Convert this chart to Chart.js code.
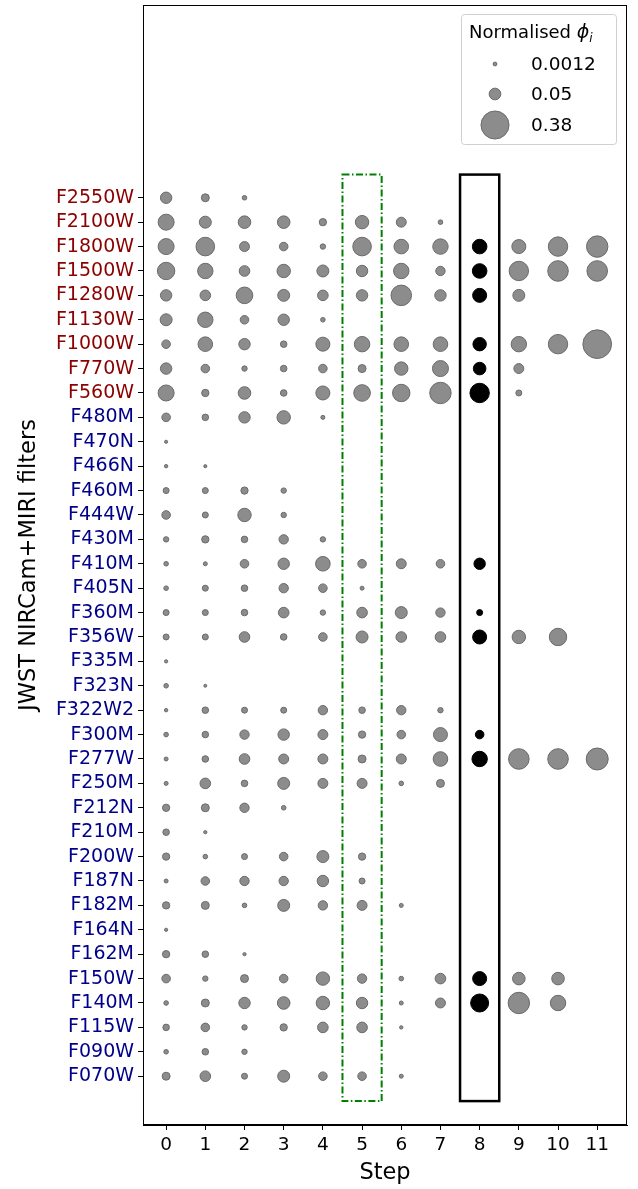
<!DOCTYPE html>
<html>
<head>
<meta charset="utf-8">
<script src="https://cdn.jsdelivr.net/npm/chart.js@4.4.1/dist/chart.umd.min.js"></script>
<style>
  html, body { margin: 0; padding: 0; background: #fff; }
  #wrap { width: 638px; height: 1189px; }
</style>
</head>
<body>
<div id="wrap"><canvas id="chart" width="638" height="1189"></canvas></div>
<script>
// Filters, top to bottom (MIRI first, then NIRCam)
const filters = [
    'F2550W', 'F2100W', 'F1800W', 'F1500W', 'F1280W', 'F1130W', 'F1000W', 'F770W', 'F560W',
    'F480M', 'F470N', 'F466N', 'F460M', 'F444W', 'F430M', 'F410M', 'F405N', 'F360M',
    'F356W', 'F335M', 'F323N', 'F322W2', 'F300M', 'F277W', 'F250M', 'F212N', 'F210M',
    'F200W', 'F187N', 'F182M', 'F164N', 'F162M', 'F150W', 'F140M', 'F115W', 'F090W', 'F070W'
];
const miriCount = 9;
const steps = [0, 1, 2, 3, 4, 5, 6, 7, 8, 9, 10, 11];
const highlightStep = 8;

// Normalised phi_i per filter (same order as filters), one value per step
const phi = [
    [0.047, 0.018, 0.0028],
    [0.107, 0.053, 0.060, 0.060, 0.014, 0.070, 0.033, 0.0028],
    [0.107, 0.152, 0.033, 0.022, 0.0052, 0.152, 0.086, 0.098, 0.086, 0.078, 0.167, 0.209],
    [0.130, 0.098, 0.039, 0.070, 0.053, 0.047, 0.098, 0.028, 0.086, 0.167, 0.191, 0.191],
    [0.047, 0.039, 0.117, 0.053, 0.039, 0.047, 0.191, 0.047, 0.078, 0.053],
    [0.053, 0.098, 0.022, 0.047, 0.0028],
    [0.022, 0.086, 0.047, 0.010, 0.078, 0.098, 0.086, 0.086, 0.070, 0.098, 0.167, 0.40],
    [0.047, 0.022, 0.0052, 0.010, 0.022, 0.018, 0.070, 0.107, 0.060, 0.033],
    [0.107, 0.014, 0.060, 0.010, 0.078, 0.117, 0.130, 0.209, 0.167, 0.0075],
    [0.022, 0.010, 0.047, 0.070, 0.0015],
    [0.0003],
    [0.0006, 0.0003],
    [0.0075, 0.0075, 0.014, 0.0052],
    [0.022, 0.0075, 0.070, 0.0052],
    [0.0052, 0.014, 0.010, 0.028, 0.0052],
    [0.0028, 0.0015, 0.022, 0.047, 0.086, 0.022, 0.033, 0.022, 0.047],
    [0.0028, 0.0075, 0.010, 0.028, 0.022, 0.0015],
    [0.0075, 0.0075, 0.010, 0.039, 0.0052, 0.039, 0.053, 0.028, 0.0075],
    [0.0075, 0.0075, 0.039, 0.010, 0.022, 0.053, 0.039, 0.039, 0.078, 0.070, 0.130],
    [0.0004],
    [0.0028, 0.0002],
    [0.0006, 0.010, 0.0075, 0.0075, 0.028, 0.010, 0.028, 0.0052],
    [0.0028, 0.010, 0.028, 0.047, 0.033, 0.014, 0.022, 0.078, 0.022],
    [0.0015, 0.010, 0.039, 0.033, 0.033, 0.018, 0.033, 0.086, 0.098, 0.191, 0.191, 0.222],
    [0.0015, 0.039, 0.010, 0.053, 0.033, 0.033, 0.0028, 0.018],
    [0.014, 0.018, 0.028, 0.0028],
    [0.010, 0.0004],
    [0.014, 0.0028, 0.0075, 0.022, 0.053, 0.014],
    [0.0015, 0.022, 0.028, 0.028, 0.047, 0.0075],
    [0.014, 0.018, 0.0028, 0.053, 0.028, 0.033, 0.0015],
    [0.0004],
    [0.014, 0.010, 0.0004],
    [0.022, 0.0052, 0.018, 0.022, 0.070, 0.028, 0.0028, 0.039, 0.078, 0.060, 0.060],
    [0.0028, 0.018, 0.047, 0.060, 0.070, 0.047, 0.0015, 0.033, 0.141, 0.209, 0.098],
    [0.010, 0.022, 0.0052, 0.014, 0.039, 0.039, 0.0006],
    [0.0028, 0.010, 0.0052],
    [0.018, 0.039, 0.0075, 0.053, 0.022, 0.022, 0.0015]
];

// Legend reference sizes
const legendValues = [0.0012, 0.05, 0.38];
const legendLabels = ['0.0012', '0.05', '0.38'];

// Highlight boxes (step ranges)
const greenBox = [4.5, 5.5];
const blackBox = [7.5, 8.5];

const FONT = "'DejaVu Sans', sans-serif";
const radius = v => 1.2 + 20.8 * Math.sqrt(v);
const yOf = i => filters.length - 1 - i;

const greyPts = [];
const blackPts = [];
phi.forEach((row, i) => {
    row.forEach((v, s) => {
        if (v == null) return;
        const p = { x: steps[s], y: yOf(i), r: radius(v) };
        (steps[s] === highlightStep ? blackPts : greyPts).push(p);
    });
});

// Boxes, frame and legend
const overlay = {
    id: 'overlay',
    afterDatasetsDraw(chart) {
        const { ctx, chartArea: a, scales: { x, y } } = chart;
        ctx.save();
        const yTop = y.getPixelForValue(filters.length - 1 + 0.95);
        const yBot = y.getPixelForValue(-1.02);

        ctx.strokeStyle = '#008000';
        ctx.lineWidth = 2;
        ctx.setLineDash([7, 2.5, 1.5, 2.5]);
        ctx.strokeRect(x.getPixelForValue(greenBox[0]), yTop,
            x.getPixelForValue(greenBox[1]) - x.getPixelForValue(greenBox[0]), yBot - yTop);

        ctx.setLineDash([]);
        ctx.strokeStyle = '#000';
        ctx.lineWidth = 2.5;
        ctx.strokeRect(x.getPixelForValue(blackBox[0]), yTop,
            x.getPixelForValue(blackBox[1]) - x.getPixelForValue(blackBox[0]), yBot - yTop);

        // axes frame
        ctx.lineWidth = 1;
        ctx.strokeRect(a.left + 0.5, a.top + 0.5, a.width - 1, a.height - 1);

        // legend
        const lx = 461, ly = 14, lw = 155, lh = 130;
        ctx.fillStyle = 'rgba(255,255,255,0.85)';
        ctx.strokeStyle = '#d0d0d0';
        ctx.lineWidth = 1;
        ctx.beginPath();
        ctx.roundRect(lx + 0.5, ly + 0.5, lw, lh, 3);
        ctx.fill();
        ctx.stroke();

        ctx.fillStyle = '#000';
        ctx.textBaseline = 'middle';
        ctx.font = '18px ' + FONT;
        ctx.textAlign = 'left';
        const t1 = 'Normalised ';
        ctx.fillText(t1, 469, 33);
        let tx = 469 + ctx.measureText(t1).width;
        ctx.font = 'italic 19px ' + FONT;
        ctx.fillText('\u03d5', tx, 33);
        tx += ctx.measureText('\u03d5').width;
        ctx.font = 'italic 12px ' + FONT;
        ctx.fillText('i', tx, 39);

        const rowsY = [64, 94, 125];
        legendValues.forEach((v, k) => {
            ctx.beginPath();
            ctx.arc(495, rowsY[k], radius(v), 0, Math.PI * 2);
            ctx.fillStyle = '#8c8c8c';
            ctx.fill();
            ctx.strokeStyle = '#6a6a6a';
            ctx.lineWidth = 1;
            ctx.stroke();
            ctx.fillStyle = '#000';
            ctx.font = '18.5px ' + FONT;
            ctx.fillText(legendLabels[k], 531, rowsY[k] + 1);
        });
        ctx.restore();
    }
};

new Chart(document.getElementById('chart').getContext('2d'), {
    type: 'bubble',
    data: {
        datasets: [
            {
                label: 'grey',
                data: greyPts,
                backgroundColor: '#8c8c8c',
                borderColor: '#6a6a6a',
                borderWidth: 1
            },
            {
                label: 'step 8',
                data: blackPts,
                backgroundColor: '#000000',
                borderColor: '#000000',
                borderWidth: 1
            }
        ]
    },
    options: {
        responsive: false,
        animation: false,
        events: [],
        layout: { autoPadding: false, padding: { top: 5, right: 11, left: 0, bottom: 0 } },
        scales: {
            x: {
                type: 'linear',
                min: -0.59,
                max: 11.76,
                afterBuildTicks: s => { s.ticks = steps.map(v => ({ value: v })); },
                afterFit: s => { s.height = 64; s.paddingLeft = 0; s.paddingRight = 0; },
                grid: { drawOnChartArea: false, drawTicks: true, tickLength: 5, color: '#000' },
                border: { display: true, color: '#000' },
                ticks: {
                    color: '#000',
                    padding: 4,
                    maxRotation: 0,
                    font: { family: FONT, size: 18.5 }
                },
                title: {
                    display: true,
                    text: 'Step',
                    color: '#000',
                    padding: { top: 0, bottom: 2 },
                    font: { family: FONT, size: 22.5 }
                }
            },
            y: {
                type: 'linear',
                min: -2.0,
                max: 43.9,
                afterBuildTicks: s => { s.ticks = filters.map((f, i) => ({ value: yOf(i) })); },
                afterFit: s => { s.width = 143; s.paddingTop = 0; s.paddingBottom = 0; },
                grid: { drawOnChartArea: false, drawTicks: true, tickLength: 5, color: '#000' },
                border: { display: true, color: '#000' },
                ticks: {
                    padding: 4,
                    autoSkip: false,
                    font: { family: FONT, size: 19 },
                    color: c => (filters.length - 1 - c.tick.value) < miriCount ? '#8b0000' : '#00008b',
                    callback: v => filters[filters.length - 1 - v]
                },
                title: {
                    display: true,
                    text: 'JWST NIRCam+MIRI filters',
                    color: '#000',
                    padding: { top: 16, bottom: 4 },
                    font: { family: FONT, size: 22.5 }
                }
            }
        },
        plugins: {
            legend: { display: false },
            tooltip: { enabled: false }
        }
    },
    plugins: [overlay]
});
</script>
</body>
</html>
